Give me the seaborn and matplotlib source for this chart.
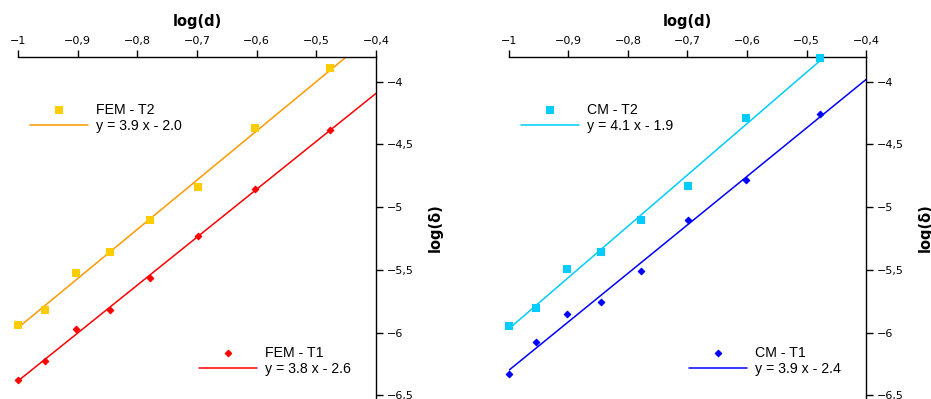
import numpy as np
import pandas as pd
import matplotlib
matplotlib.use("Agg")
import matplotlib.pyplot as plt
from matplotlib.ticker import FuncFormatter, MultipleLocator
import seaborn as sns

# ---- data ----
log_d = [-1.0, -0.954, -0.903, -0.845, -0.778, -0.699, -0.602, -0.477]

fem_t2 = [-5.938, -5.824, -5.526, -5.361, -5.103, -4.843, -4.372, -3.894]
fem_t1 = [-6.376, -6.228, -5.970, -5.821, -5.566, -5.234, -4.856, -4.383]
cm_t2 = [-5.945, -5.806, -5.495, -5.361, -5.099, -4.832, -4.289, -3.807]
cm_t1 = [-6.330, -6.075, -5.856, -5.760, -5.511, -5.099, -4.787, -4.254]

panels = [
    {"t2": fem_t2, "t1": fem_t1,
     "t2_label": "FEM - T2", "t1_label": "FEM - T1",
     "t2_eq": "y = 3.9 x - 2.0", "t1_eq": "y = 3.8 x - 2.6",
     "t2_mc": "#FFCC00", "t2_lc": "#FF9900",
     "t1_mc": "#FF0000", "t1_lc": "#FF0000"},
    {"t2": cm_t2, "t1": cm_t1,
     "t2_label": "CM - T2", "t1_label": "CM - T1",
     "t2_eq": "y = 4.1 x - 1.9", "t1_eq": "y = 3.9 x - 2.4",
     "t2_mc": "#00CCFF", "t2_lc": "#00CCFF",
     "t1_mc": "#0000FF", "t1_lc": "#0000FF"},
]

x_label = "log(d)"
y_label = "log(δ)"
xlim = (-1.0, -0.4)
ylim = (-6.53, -3.8)

sns.set_style("white")
plt.rcParams["font.family"] = ["DejaVu Sans"]
plt.rcParams["text.color"] = "black"
plt.rcParams["axes.labelcolor"] = "black"

fig = plt.figure(figsize=(9.31, 3.99), dpi=100)
ax_rects = [[0.0193, 0.0, 0.3845, 0.858], [0.5467, 0.0, 0.3835, 0.858]]


def fmt(v, pos):
    s = f"{v:g}".replace(".", ",")
    return s.replace("-", "\u2212")


legend_font = {"family": "Liberation Sans", "size": 10.2}

for rect, p in zip(ax_rects, panels):
    ax = fig.add_axes(rect)
    xs = np.array(log_d)
    xfit = np.array([xlim[0], xlim[1]])

    # T2 series
    df2 = pd.DataFrame({"x": log_d, "y": p["t2"]})
    k2, b2 = np.polyfit(xs, np.array(p["t2"]), 1)
    fit2 = pd.DataFrame({"x": xfit, "y": k2 * xfit + b2})
    sns.scatterplot(data=df2, x="x", y="y", ax=ax, marker="s", s=28,
                    color=p["t2_mc"], linewidth=0, zorder=3, clip_on=False)
    h_sc2 = ax.collections[-1]
    sns.lineplot(data=fit2, x="x", y="y", ax=ax, color=p["t2_lc"],
                 linewidth=1.1, zorder=2)
    h_ln2 = ax.lines[-1]

    # T1 series
    df1 = pd.DataFrame({"x": log_d, "y": p["t1"]})
    k1, b1 = np.polyfit(xs, np.array(p["t1"]), 1)
    fit1 = pd.DataFrame({"x": xfit, "y": k1 * xfit + b1})
    sns.scatterplot(data=df1, x="x", y="y", ax=ax, marker="D", s=11,
                    color=p["t1_mc"], edgecolor=p["t1_mc"], linewidth=0.8,
                    zorder=3, clip_on=False)
    h_sc1 = ax.collections[-1]
    sns.lineplot(data=fit1, x="x", y="y", ax=ax, color=p["t1_lc"],
                 linewidth=1.1, zorder=2)
    h_ln1 = ax.lines[-1]

    ax.set_xlim(*xlim)
    ax.set_ylim(*ylim)

    # axes styling: x axis on top, y axis on right
    for side in ["left", "bottom"]:
        ax.spines[side].set_visible(False)
    for side in ["top", "right"]:
        ax.spines[side].set_visible(True)
        ax.spines[side].set_color("black")
        ax.spines[side].set_linewidth(1.0)

    ax.xaxis.set_ticks_position("top")
    ax.xaxis.set_label_position("top")
    ax.yaxis.set_ticks_position("right")
    ax.yaxis.set_label_position("right")
    ax.xaxis.set_major_locator(MultipleLocator(0.1))
    ax.yaxis.set_major_locator(MultipleLocator(0.5))
    ax.xaxis.set_major_formatter(FuncFormatter(fmt))
    ax.yaxis.set_major_formatter(FuncFormatter(fmt))
    ax.tick_params(axis="both", direction="out", length=5, width=1.0,
                   color="black", labelsize=8, labelcolor="black", pad=3)

    ax.set_xlabel(x_label, fontsize=10.5, fontweight="bold", labelpad=7,
                  color="black")
    ax.set_ylabel(y_label, fontsize=10.5, fontweight="bold", rotation=90,
                  color="black")
    ax.yaxis.set_label_coords(1.145, 0.5)
    ax.yaxis.label.set_horizontalalignment("center")
    ax.yaxis.label.set_verticalalignment("top")

    common = dict(frameon=False, prop=legend_font, borderpad=0,
                  borderaxespad=0, handlelength=4.1, handletextpad=0.55,
                  labelspacing=0.15, scatterpoints=1, loc="center left",
                  labelcolor="black")
    leg2 = ax.legend([h_sc2, h_ln2], [p["t2_label"], p["t2_eq"]],
                     bbox_to_anchor=(0.033, 0.822), **common)
    ax.add_artist(leg2)
    leg1 = ax.legend([h_sc1, h_ln1], [p["t1_label"], p["t1_eq"]],
                     bbox_to_anchor=(0.505, 0.111), **common)

fig.savefig("out.png", dpi=100)
